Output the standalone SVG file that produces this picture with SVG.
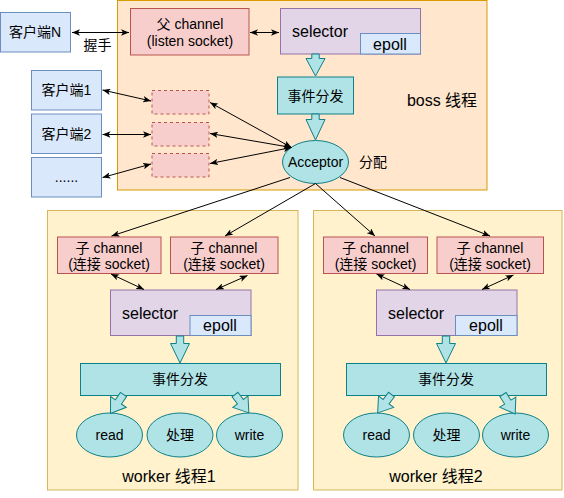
<svg xmlns="http://www.w3.org/2000/svg" width="564" height="498" viewBox="0 0 564 498">
<style>
text{font-family:'Liberation Sans','Noto Sans CJK SC',sans-serif;font-size:14px;fill:#000;text-anchor:middle;dominant-baseline:central}
.big{font-size:16px}
.boss{fill:#ffe6cc;stroke:#d79b00}
.wk{fill:#fff2cc;stroke:#d6b656}
.cl{fill:#dae8fc;stroke:#6c8ebf}
.ch{fill:#f8cecc;stroke:#b85450}
.dash{fill:#f8cecc;stroke:#b85450;stroke-dasharray:3 3}
.sel{fill:#e1d5e7;stroke:#9673a6}
.tl{fill:#b0e3e6;stroke:#0e8088}
.ln{stroke:#000;stroke-width:1;fill:none;marker-end:url(#a)}
.bi{marker-start:url(#a)}
</style>
<defs>
<marker id="a" viewBox="0 0 10 8" refX="10" refY="4" markerWidth="8" markerHeight="6.4" markerUnits="userSpaceOnUse" orient="auto-start-reverse"><path d="M0,0 L10,4 L0,8 L2.5,4 z" fill="#000"/></marker>
<path id="ba" d="M0,-3.7 H9 V-9.5 L23,0 L9,9.5 V3.7 H0 Z"/>
</defs>

<g id="boss-thread"><rect class="boss" x="117.5" y="0.5" width="369.5" height="189.5"/><text class="big" x="442" y="100">boss 线程</text></g>
<g id="worker1"><rect class="wk" x="47.5" y="210.5" width="250.5" height="279.5"/><text class="big" x="169" y="476">worker 线程1</text></g>
<g id="worker2"><rect class="wk" x="313.5" y="210.5" width="248.5" height="279.5"/><text class="big" x="436" y="476">worker 线程2</text></g>

<g id="clientN"><rect class="cl" x="0.5" y="12.5" width="70" height="39.5"/><text x="35" y="32">客户端N</text></g>
<g id="client1"><rect class="cl" x="31.5" y="70.5" width="70" height="39.5"/><text x="66.5" y="90">客户端1</text></g>
<g id="client2"><rect class="cl" x="31.5" y="114" width="70" height="39.5"/><text x="66.5" y="134">客户端2</text></g>
<g id="client3"><rect class="cl" x="31.5" y="157.5" width="70" height="39.5"/><text x="66.5" y="177">......</text></g>

<g id="parent-channel"><rect class="ch" x="130.5" y="8.5" width="118.5" height="46.5"/><text x="190" y="24">父 channel</text><text x="190" y="41">(listen socket)</text></g>
<g id="boss-selector"><rect class="sel" x="280.5" y="8.5" width="140" height="45.5"/><rect class="cl" x="360.5" y="33.5" width="60" height="20.5"/><text class="big" x="320" y="31">selector</text><text class="big" x="390" y="44">epoll</text></g>
<g id="boss-dispatch"><rect class="tl" x="277.5" y="77" width="76" height="37"/><text x="315.5" y="95.5">事件分发</text></g>
<g id="acceptor"><ellipse class="tl" cx="315.5" cy="162" rx="33" ry="21.5"/><text x="315.5" y="162">Acceptor</text></g>
<g id="d1"><rect class="dash" x="152" y="90.5" width="57" height="23.5"/></g>
<g id="d2"><rect class="dash" x="152" y="122.5" width="57" height="23.5"/></g>
<g id="d3"><rect class="dash" x="152" y="153.5" width="57" height="23.5"/></g>

<g id="w1-ch1"><rect class="ch" x="57.5" y="237" width="103.5" height="36.5"/><text x="109" y="247.5">子 channel</text><text x="109" y="264">(连接 socket)</text></g>
<g id="w1-ch2"><rect class="ch" x="170.5" y="237" width="107.5" height="36.5"/><text x="224" y="247.5">子 channel</text><text x="224" y="264">(连接 socket)</text></g>
<g id="w1-selector"><rect class="sel" x="110.5" y="290" width="140.5" height="45.5"/><rect class="cl" x="190" y="315.5" width="61" height="20"/><text class="big" x="150" y="313">selector</text><text class="big" x="220" y="325.5">epoll</text></g>
<g id="w1-dispatch"><rect class="tl" x="80.5" y="363.5" width="200" height="32"/><text x="180" y="379">事件分发</text></g>
<g id="w1-read"><ellipse class="tl" cx="109.5" cy="435" rx="33" ry="22"/><text x="109.5" y="435">read</text></g>
<g id="w1-proc"><ellipse class="tl" cx="180" cy="435" rx="33" ry="22"/><text x="180" y="435">处理</text></g>
<g id="w1-write"><ellipse class="tl" cx="249.5" cy="435" rx="33" ry="22"/><text x="249.5" y="435">write</text></g>

<g id="w2-ch1"><rect class="ch" x="323.5" y="237" width="104" height="36.5"/><text x="375.5" y="247.5">子 channel</text><text x="375.5" y="264">(连接 socket)</text></g>
<g id="w2-ch2"><rect class="ch" x="437" y="237" width="106.5" height="36.5"/><text x="490" y="247.5">子 channel</text><text x="490" y="264">(连接 socket)</text></g>
<g id="w2-selector"><rect class="sel" x="376.5" y="290" width="140.5" height="45.5"/><rect class="cl" x="455.5" y="315.5" width="61.5" height="20"/><text class="big" x="416" y="313">selector</text><text class="big" x="486" y="325.5">epoll</text></g>
<g id="w2-dispatch"><rect class="tl" x="346.5" y="363.5" width="200" height="32"/><text x="446" y="379">事件分发</text></g>
<g id="w2-read"><ellipse class="tl" cx="376.5" cy="435" rx="33" ry="22"/><text x="376.5" y="435">read</text></g>
<g id="w2-proc"><ellipse class="tl" cx="446.5" cy="435" rx="33" ry="22"/><text x="446.5" y="435">处理</text></g>
<g id="w2-write"><ellipse class="tl" cx="515.5" cy="435" rx="33" ry="22"/><text x="515.5" y="435">write</text></g>

<g id="connectors">
<line class="ln bi" x1="72" y1="32.5" x2="129" y2="32.5"/>
<text x="97.5" y="44.5">握手</text>
<line class="ln bi" x1="250" y1="32.5" x2="279" y2="32.5"/>
<line class="ln bi" x1="102.5" y1="90" x2="151" y2="101"/>
<line class="ln bi" x1="102.5" y1="134.5" x2="151" y2="134.5"/>
<line class="ln bi" x1="102.5" y1="177.5" x2="151" y2="164"/>
<line class="ln bi" x1="210" y1="102.5" x2="291.5" y2="147.5"/>
<line class="ln bi" x1="210" y1="133.5" x2="291.5" y2="147.5"/>
<line class="ln bi" x1="210" y1="163.5" x2="291.5" y2="147.5"/>
<text x="373" y="162">分配</text>
<path class="tl" d="M311.8,54 H319.2 V58.5 H325 L315.5,76 L306,58.5 H311.8 Z"/>
<path class="tl" d="M311.8,114 H319.2 V119.5 H325 L315.5,140 L306,119.5 H311.8 Z"/>
<line class="ln" x1="290" y1="177.5" x2="111.5" y2="236"/>
<line class="ln" x1="315.5" y1="183.5" x2="225" y2="236"/>
<line class="ln" x1="315.5" y1="183.5" x2="375" y2="236"/>
<line class="ln" x1="340" y1="177.5" x2="490" y2="236"/>
<line class="ln bi" x1="111" y1="274" x2="144" y2="289.5"/>
<line class="ln bi" x1="247.5" y1="275.5" x2="216" y2="289.5"/>
<line class="ln bi" x1="376.5" y1="274" x2="410" y2="289.5"/>
<line class="ln bi" x1="513.5" y1="275" x2="482" y2="289.5"/>
<path class="tl" d="M176.3,336 H183.7 V343.5 H189.5 L180,363 L170.5,343.5 H176.3 Z"/>
<path class="tl" d="M442.3,336 H449.7 V343.5 H455.5 L446,363 L436.5,343.5 H442.3 Z"/>
<use href="#ba" class="tl" transform="translate(123.5,394.5) rotate(124.5)"/>
<use href="#ba" class="tl" transform="translate(235,394.5) rotate(53)"/>
<use href="#ba" class="tl" transform="translate(391.5,394.5) rotate(127)"/>
<use href="#ba" class="tl" transform="translate(503,394.5) rotate(58)"/>
</g>
</svg>
